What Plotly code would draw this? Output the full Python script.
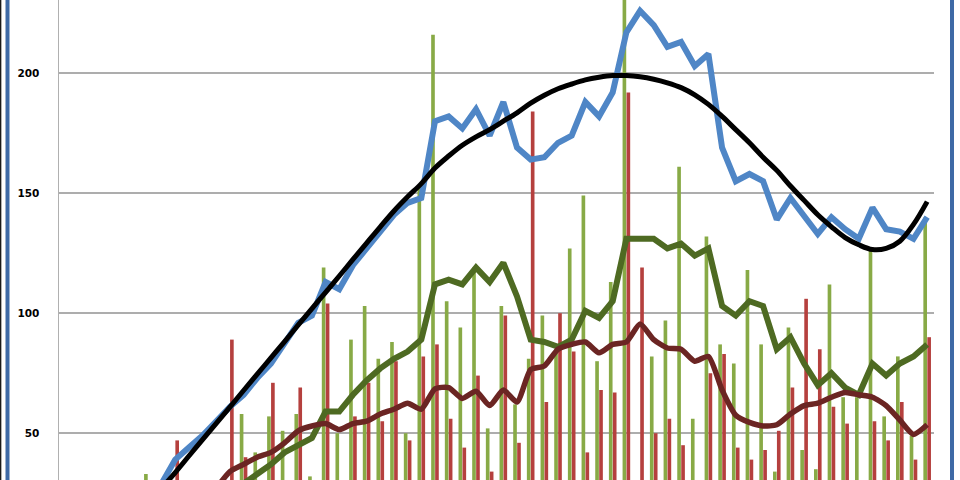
import plotly.graph_objects as go

# ---- data ----
categories = list(range(64))

green_bars = [18, 20, 15, 22, 16, 25, 33, 24, 21, 26, 20, 24, 27, 58, 42, 57,
              51, 58, 32, 119, 50, 89, 103, 81, 88, 50, 153, 216, 105, 94, 119, 52,
              103, 62, 81, 99, 85, 127, 149, 80, 113, 238, 27, 82, 97, 161, 56, 132,
              87, 79, 118, 87, 34, 94, 43, 35, 112, 65, 65, 126, 57, 82, 49, 140]

red_bars = [12, 15, 22, 18, 24, 20, 22, 26, 47, 22, 25, 28, 89, 40, 28, 71,
            26, 69, 26, 104, 26, 57, 71, 55, 80, 47, 82, 87, 56, 44, 74, 34,
            99, 46, 184, 63, 100, 84, 42, 68, 67, 192, 119, 50, 56, 45, 25, 75,
            83, 44, 39, 43, 51, 69, 106, 85, 61, 54, 28, 55, 47, 63, 39, 90]

blue_x = list(range(7, 64))
blue_line = [29, 39, 44, 49, 55, 61, 66, 73, 79, 87, 96, 99, 113, 110, 120, 127,
             134, 141, 146, 148, 180, 182, 177, 185, 174, 188, 169, 164, 165, 171, 174, 188,
             182, 192, 217, 226, 220, 211, 213, 203, 208, 169, 155, 158, 155, 139, 148, 140,
             133, 140, 135, 131, 144, 135, 134, 131, 140]

dgreen_x = list(range(13, 64))
dgreen_line = [29, 33, 37, 42, 45, 48, 59, 59, 66, 72, 77, 81, 84, 89, 112, 114,
               112, 119, 113, 121, 107, 89, 88, 86, 89, 101, 98, 105, 131, 131, 131, 127,
               129, 124, 127, 103, 99, 105, 103, 85, 90, 79, 70, 75, 69, 66, 79, 74,
               79, 82, 87]

dred_x = list(range(11, 64))
dred_line = [27, 34, 37, 40, 42, 46, 51, 53, 54, 51.5, 54, 55, 58, 60, 62.5, 60,
             68.5, 69, 64.5, 67.5, 61.5, 68, 63, 76.5, 78, 85, 87, 88, 83.5, 87, 88, 95.5,
             89, 85.5, 85, 80, 82, 68, 57.5, 54.5, 53, 53.5, 58, 61.5, 62.5, 65, 67, 66,
             65, 61.5, 55.5, 49.5, 53.5]

trend_x = list(range(6, 64))
trend_line = [20, 27, 33.6, 40.5, 47.3, 54.1, 60.9, 67.8, 74.6, 81.4, 88.2, 95.1, 101.9, 108.7, 115.5, 122.4,
              129.2, 136, 142.6, 148.5, 154, 160.5, 165.5, 170, 173.5, 176.5, 180, 183.5, 187.5, 190.8, 193.5, 195.5,
              197.2, 198.3, 199, 199, 198.5, 197.5, 196, 194, 191, 187, 182, 176.5, 171, 165, 159.5, 153,
              147, 141, 136, 131.5, 128.5, 126.5, 127, 130, 137, 146.5]

y_ticks = [50, 100, 150, 200]
y_tick_labels = ["50", "100", "150", "200"]

# ---- figure ----
fig = go.Figure()

fig.add_trace(go.Bar(x=categories, y=green_bars, marker=dict(color="#88AA46", line=dict(width=0)),
                     showlegend=False, hoverinfo="skip"))
fig.add_trace(go.Bar(x=categories, y=red_bars, marker=dict(color="#B5403E", line=dict(width=0)),
                     showlegend=False, hoverinfo="skip"))

fig.add_trace(go.Scatter(x=blue_x, y=blue_line, mode="lines",
                         line=dict(color="#4F86C6", width=6), showlegend=False, hoverinfo="skip"))
fig.add_trace(go.Scatter(x=dgreen_x, y=dgreen_line, mode="lines",
                         line=dict(color="#4E6A22", width=6), showlegend=False, hoverinfo="skip"))
fig.add_trace(go.Scatter(x=dred_x, y=dred_line, mode="lines",
                         line=dict(color="#6B2523", width=5.5, shape="spline", smoothing=0.6),
                         showlegend=False, hoverinfo="skip"))
fig.add_trace(go.Scatter(x=trend_x, y=trend_line, mode="lines",
                         line=dict(color="#000000", width=5, shape="spline", smoothing=1.0),
                         showlegend=False, hoverinfo="skip"))

L, R = 59, 934
W = R - L


def px(p):
    return (p - L) / W


shapes = [
    dict(type="line", xref="paper", yref="paper", x0=px(0.6), x1=px(0.6), y0=-0.1, y1=1.1,
         line=dict(color="#1A1A1A", width=1.5)),
    dict(type="line", xref="paper", yref="paper", x0=px(7.5), x1=px(7.5), y0=-0.1, y1=1.1,
         line=dict(color="#3E6AA6", width=4)),
    dict(type="line", xref="paper", yref="paper", x0=px(952), x1=px(952), y0=-0.1, y1=1.1,
         line=dict(color="#3E6AA6", width=4)),
]

fig.update_layout(
    width=960, height=480,
    margin=dict(l=L, r=960 - R, t=0, b=0),
    paper_bgcolor="white", plot_bgcolor="white",
    barmode="group", bargap=0.42, bargroupgap=0.08,
    showlegend=False,
    shapes=shapes,
    xaxis=dict(range=[-0.5, 63.5], showticklabels=False, showgrid=False, zeroline=False,
               showline=False, ticks=""),
    yaxis=dict(range=[30.5, 230.5], tickvals=y_ticks, ticktext=y_tick_labels,
               showgrid=True, gridcolor="#ADADAD", gridwidth=1.5, zeroline=False,
               showline=True, linecolor="#B0B0B0", linewidth=1.5,
               ticks="", ticklabelstandoff=16,
               tickfont=dict(family="DejaVu Sans", size=10.5, color="#000000", weight="bold")),
)

fig.write_html(
    "out.html",
    config={"displayModeBar": False, "staticPlot": True},
    post_script="document.body.style.margin='0';document.body.style.overflow='hidden';",
)
